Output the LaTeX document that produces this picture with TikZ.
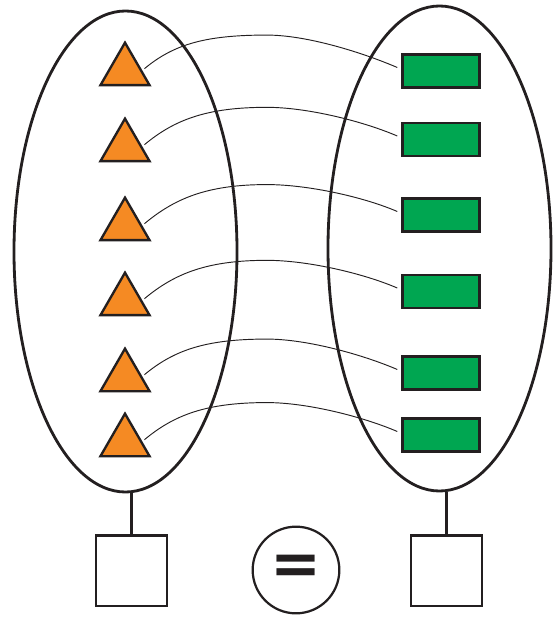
\documentclass[tikz,border=0pt]{standalone}
\usepackage{fontspec}
\newfontfamily\eqfont{DejaVu Sans}
\usetikzlibrary{positioning,calc,shapes.geometric}
\definecolor{inkline}{HTML}{231F20}
\definecolor{triorange}{HTML}{F58A23}
\definecolor{boxgreen}{HTML}{00A651}

\begin{document}
\begin{tikzpicture}[
  x=0.03cm, y=-0.03cm,
  set/.style={draw=inkline,line width=2.4pt,ellipse,inner sep=0pt},
  elem/.style={draw=inkline,fill=triorange,line width=2pt,regular polygon,
    regular polygon sides=3,minimum size=1.7cm,inner sep=0pt},
  image/.style={draw=inkline,fill=boxgreen,line width=2.2pt,minimum width=2.3cm,
    minimum height=1.0cm,inner sep=0pt},
  holder/.style={draw=inkline,line width=2pt,minimum size=2.12cm,inner sep=0pt},
  stem/.style={draw=inkline,line width=2pt},
  link/.style={draw=inkline,line width=0.8pt,
    to path={.. controls +(30,-25) and +(-60,0)
      .. ($(\tikztostart)!0.5!(\tikztotarget)+(-4,-33)$)
      .. controls +(40,0) and +(-35,-15) .. (\tikztotarget)}}
]
  \useasboundingbox (0,0) rectangle (552,617);

  % Two sets
  \node[set,minimum width=6.69cm,minimum height=14.43cm] (dom) at (125.5,251.5) {};
  \node[set,minimum width=6.69cm,minimum height=14.55cm] (cod) at (439.5,248.5) {};

  % Elements of the left set
  \node[elem] (t1) at (125,71) {};
  \node[elem] (t2) at (125,147) {};
  \node[elem] (t3) at (125,226) {};
  \node[elem] (t4) at (125,301) {};
  \node[elem] (t5) at (125,377) {};
  \node[elem] (t6) at (125,442) {};

  % Elements of the right set
  \node[image] (r1) at (441,71) {};
  \node[image] (r2) at (441,139.5) {};
  \node[image] (r3) at (441,215) {};
  \node[image] (r4) at (441,291.5) {};
  \node[image] (r5) at (441,373) {};
  \node[image] (r6) at (441,435) {};

  % Pairing
  \draw[link] ([shift={(1.5pt,2pt)}]t1.east) to ([shift={(-3.5pt,3pt)}]r1.west);
  \draw[link] ([shift={(1.5pt,2pt)}]t2.east) to ([shift={(-3.5pt,3pt)}]r2.west);
  \draw[link] ([shift={(1.5pt,2pt)}]t3.east) to ([shift={(-3.5pt,3pt)}]r3.west);
  \draw[link] ([shift={(1.5pt,2pt)}]t4.east) to ([shift={(-3.5pt,3pt)}]r4.west);
  \draw[link] ([shift={(1.5pt,2pt)}]t5.east) to ([shift={(-3.5pt,3pt)}]r5.west);
  \draw[link] ([shift={(1.5pt,2pt)}]t6.east) to ([shift={(-3.5pt,3pt)}]r6.west);

  % Boxes below the sets
  \node[holder,below=1.23cm of dom,xshift=0.18cm] (lbox) {};
  \node[holder,below=1.26cm of cod,xshift=0.21cm] (rbox) {};
  \draw[stem] (lbox.north) -- (lbox.north |- dom.south);
  \draw[stem] (rbox.north) -- (rbox.north |- cod.south);

  % Equality sign
  \node[draw=inkline,line width=1.9pt,circle,minimum size=2.6cm,inner sep=0pt,
    font=\eqfont\bfseries\fontsize{52}{52}\selectfont,text=inkline] (eq) at (296,570) {=};
\end{tikzpicture}
\end{document}
